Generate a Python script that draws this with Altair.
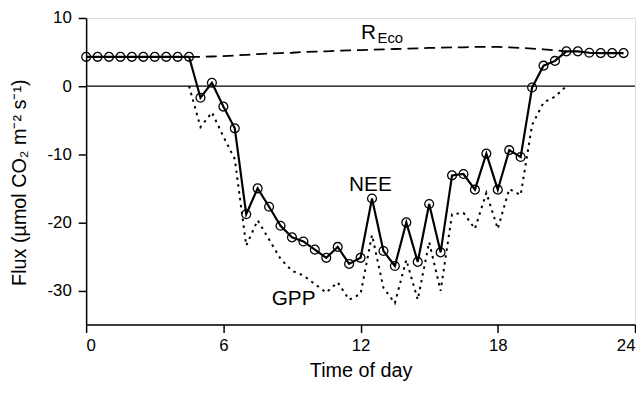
import altair as alt
import pandas as pd

# NEE, half-hourly (hours 0 .. 23.5)
nee_hours = [0.0, 0.5, 1.0, 1.5, 2.0, 2.5, 3.0, 3.5, 4.0, 4.5,
             5.0, 5.5, 6.0, 6.5, 7.0, 7.5, 8.0, 8.5, 9.0, 9.5,
             10.0, 10.5, 11.0, 11.5, 12.0, 12.5, 13.0, 13.5, 14.0, 14.5,
             15.0, 15.5, 16.0, 16.5, 17.0, 17.5, 18.0, 18.5, 19.0, 19.5,
             20.0, 20.5, 21.0, 21.5, 22.0, 22.5, 23.0, 23.5]
nee_values = [4.3, 4.3, 4.3, 4.3, 4.3, 4.3, 4.3, 4.3, 4.3, 4.3,
              -1.7, 0.5, -3.0, -6.2, -18.8, -15.0, -17.7, -20.5, -22.2, -22.8,
              -24.0, -25.2, -23.6, -26.1, -25.2, -16.5, -24.2, -26.4, -20.0, -25.8,
              -17.3, -24.4, -13.1, -12.9, -15.2, -9.9, -15.2, -9.4, -10.4, -0.2,
              3.0, 3.7, 5.1, 5.1, 4.9, 4.85, 4.85, 4.85]

# R_Eco and GPP, hours 4.5 .. 21.0
day_hours = [4.5, 5.0, 5.5, 6.0, 6.5, 7.0, 7.5, 8.0, 8.5, 9.0,
             9.5, 10.0, 10.5, 11.0, 11.5, 12.0, 12.5, 13.0, 13.5, 14.0,
             14.5, 15.0, 15.5, 16.0, 16.5, 17.0, 17.5, 18.0, 18.5, 19.0,
             19.5, 20.0, 20.5, 21.0]
reco_values = [4.3, 4.3, 4.35, 4.4, 4.5, 4.6, 4.7, 4.8, 4.85, 4.9,
               5.0, 5.05, 5.1, 5.2, 5.25, 5.3, 5.35, 5.4, 5.45, 5.5,
               5.55, 5.6, 5.65, 5.7, 5.7, 5.75, 5.75, 5.75, 5.7, 5.6,
               5.5, 5.4, 5.25, 5.1]
gpp_values = [0.0, -6.0, -3.85, -7.4, -10.7, -23.4, -19.7, -22.5, -25.35, -27.1,
              -27.8, -29.05, -30.3, -28.8, -31.35, -30.5, -21.85, -29.6, -31.85, -25.5,
              -31.35, -22.9, -30.05, -18.8, -18.6, -20.95, -15.65, -20.95, -15.1, -16.0,
              -5.7, -2.4, -1.55, 0.0]

x_ticks = [0, 6, 12, 18, 24]
y_ticks = [-30, -20, -10, 0, 10]

nee_df = pd.DataFrame({"hour": nee_hours, "flux": nee_values})
reco_df = pd.DataFrame({"hour": day_hours, "flux": reco_values})
gpp_df = pd.DataFrame({"hour": day_hours, "flux": gpp_values})

FONT = "Liberation Sans"

x_enc = alt.X("hour:Q",
              scale=alt.Scale(domain=[0, 24], nice=False, zero=False),
              axis=alt.Axis(values=x_ticks, title="Time of day", grid=False,
                            labelFontSize=17, titleFontSize=20,
                            labelFont=FONT, titleFont=FONT,
                            labelColor="black", titleColor="black",
                            titleFontWeight="normal",
                            tickSize=8, labelPadding=5, tickWidth=1.5,
                            domainWidth=1.5, domainColor="black", tickColor="black",
                            titleBaseline="alphabetic", titleY=53,
                            labelExpr="datum.value + ''"))
y_enc = alt.Y("flux:Q",
              scale=alt.Scale(domain=[-35, 10], nice=False, zero=False),
              axis=alt.Axis(values=y_ticks, title="Flux (µmol CO₂ m⁻² s⁻¹)", grid=False,
                            labelFontSize=17, titleFontSize=20,
                            labelFont=FONT, titleFont=FONT,
                            labelColor="black", titleColor="black",
                            titleFontWeight="normal",
                            tickSize=8, labelPadding=7, tickWidth=1.5,
                            domainWidth=1.5, domainColor="black", tickColor="black",
                            titleBaseline="bottom", titleX=-57, titleY=166,
                            titleAlign="center", titleAngle=-90,
                            labelExpr="datum.value + ''"))

zero_rule = alt.Chart(pd.DataFrame({"flux": [0]})).mark_rule(
    color="black", strokeWidth=1.5).encode(y=alt.Y("flux:Q"))

gpp_line = alt.Chart(gpp_df).mark_line(
    color="black", strokeWidth=2, strokeDash=[2.5, 4.5]).encode(x=x_enc, y=y_enc)

reco_line = alt.Chart(reco_df).mark_line(
    color="black", strokeWidth=1.8, strokeDash=[11, 6]).encode(x="hour:Q", y="flux:Q")

nee_line = alt.Chart(nee_df).mark_line(
    color="black", strokeWidth=2.2).encode(x="hour:Q", y="flux:Q")

nee_pts = alt.Chart(nee_df).mark_point(
    shape="circle", filled=False, color="black", size=80, strokeWidth=1.3,
    opacity=1).encode(x="hour:Q", y="flux:Q")

label_main_df = pd.DataFrame({
    "hour": [12.43, 9.07, 12.35],
    "flux": [-15.43, -32.07, 6.92],
    "text": ["NEE", "GPP", "R"],
})
label_sub_df = pd.DataFrame({"hour": [12.74], "flux": [6.28], "text": ["Eco"]})

labels_main = alt.Chart(label_main_df).mark_text(
    font=FONT, fontSize=21, color="black", align="center", baseline="alphabetic"
).encode(x="hour:Q", y="flux:Q", text="text:N")

labels_sub = alt.Chart(label_sub_df).mark_text(
    font=FONT, fontSize=15, color="black", align="left", baseline="alphabetic"
).encode(x="hour:Q", y="flux:Q", text="text:N")

chart = alt.layer(
    zero_rule, gpp_line, reco_line, nee_line, nee_pts, labels_main, labels_sub
).properties(
    width=555, height=310,
    autosize=alt.AutoSizeParams(type="none"),
    padding={"left": 79, "top": 8, "right": 1, "bottom": 60},
).configure_view(
    stroke="black", strokeWidth=1.5
).configure(
    background="white"
)

chart.save("out.html", embed_options={"renderer": "svg", "actions": False})
